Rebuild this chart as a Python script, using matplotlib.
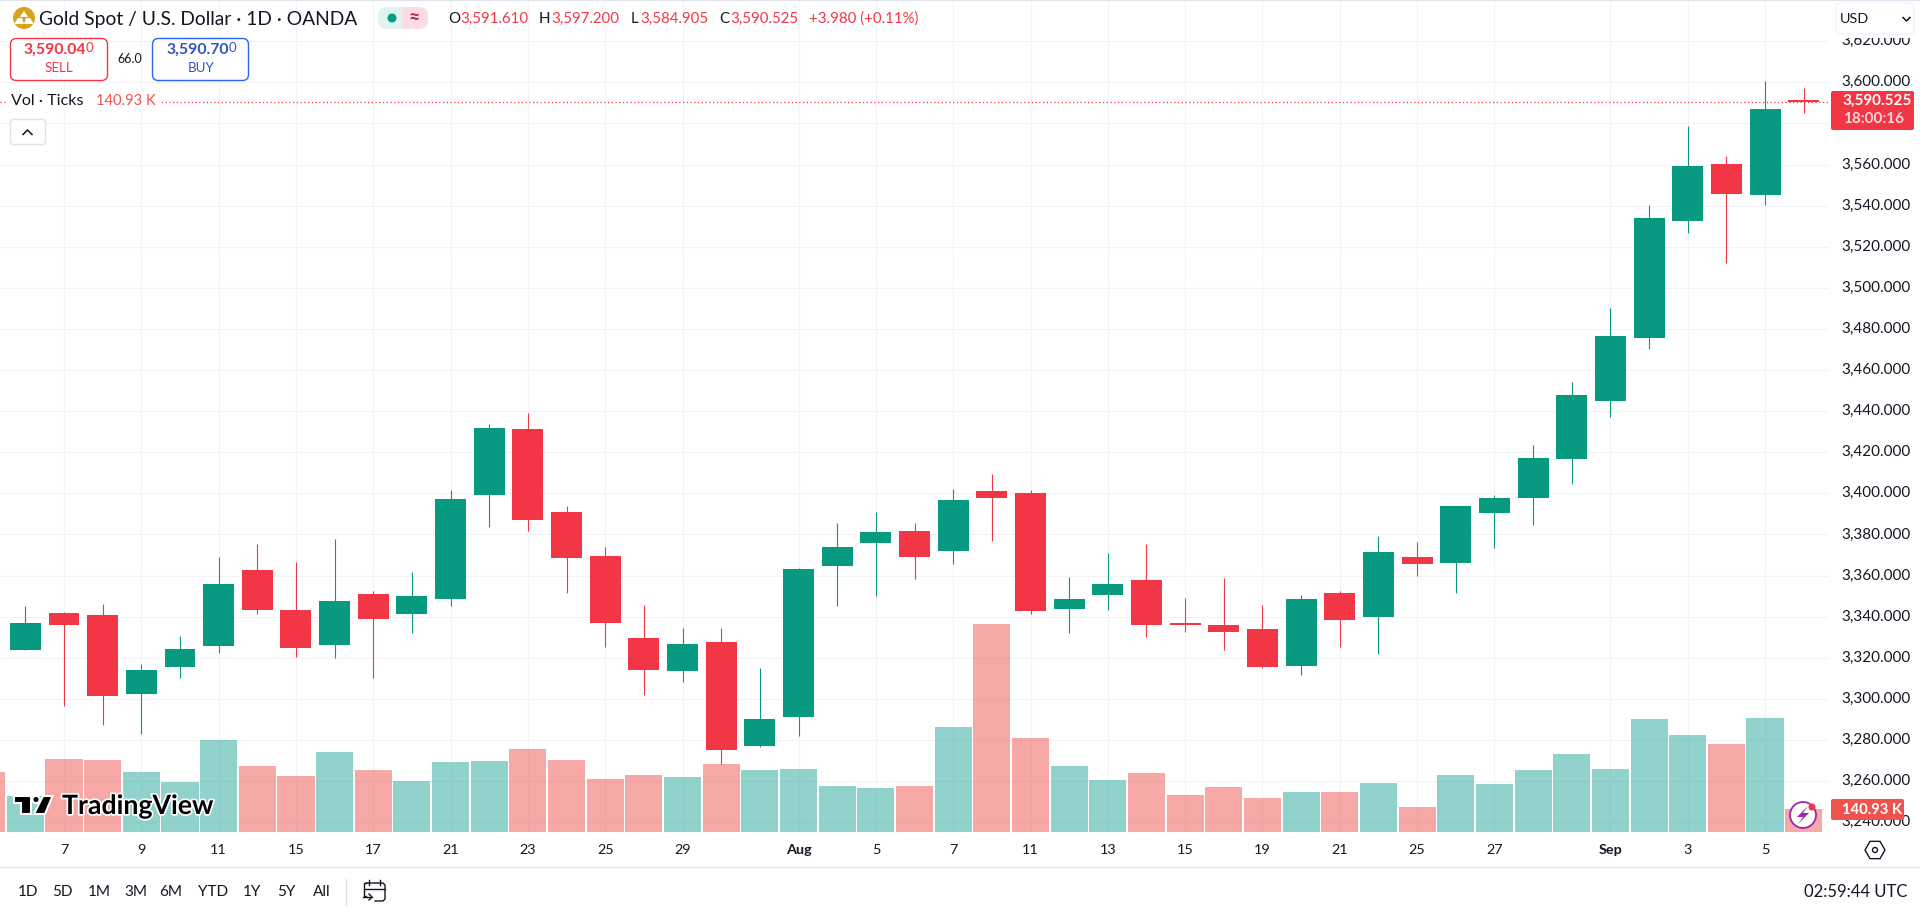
import numpy as np
import matplotlib
matplotlib.use("Agg")
import matplotlib.pyplot as plt
from matplotlib.patches import Circle, FancyBboxPatch, Polygon, RegularPolygon, Rectangle
from matplotlib.transforms import ScaledTranslation
import matplotlib.patheffects as pe

# daily candles, first one is 4 Jul, last one is 8 Sep (weekends skipped)
opens = [3323.7, 3341.7, 3340.7, 3302.3, 3315.4, 3325.7, 3362.6, 3343.2, 3326.1, 3351.0,
         3341.2, 3348.7, 3399.3, 3431.4, 3391.0, 3369.6, 3329.7, 3313.6, 3327.8, 3277.1,
         3291.3, 3364.7, 3375.9, 3381.8, 3372.0, 3400.9, 3400.4, 3343.9, 3350.3, 3358.0,
         3337.1, 3335.7, 3334.2, 3316.2, 3351.7, 3339.8, 3369.0, 3365.9, 3390.3, 3397.9,
         3416.6, 3444.8, 3475.6, 3532.5, 3560.2, 3545.2, 3591.61]
highs = [3345.1, 3342.2, 3346.1, 3316.9, 3330.5, 3369.0, 3375.3, 3366.5, 3377.7, 3352.4,
         3361.7, 3401.7, 3433.8, 3439.2, 3393.9, 3374.0, 3345.8, 3334.6, 3334.6, 3315.1,
         3363.8, 3385.7, 3391.0, 3385.7, 3402.2, 3409.6, 3401.8, 3359.5, 3371.2, 3375.1,
         3349.3, 3359.0, 3345.9, 3350.7, 3352.7, 3379.2, 3376.2, 3393.6, 3399.1, 3423.3,
         3454.0, 3490.2, 3540.1, 3578.8, 3564.2, 3600.6, 3597.2]
lows = [3323.7, 3296.5, 3287.2, 3282.8, 3310.1, 3322.3, 3341.2, 3320.3, 3319.8, 3310.1,
        3332.0, 3345.3, 3383.7, 3381.8, 3351.6, 3325.3, 3302.0, 3308.3, 3268.3, 3276.7,
        3282.0, 3345.3, 3350.1, 3358.4, 3365.7, 3377.0, 3341.5, 3331.8, 3343.0, 3330.3,
        3332.7, 3324.0, 3315.2, 3311.8, 3325.4, 3321.8, 3359.8, 3351.3, 3373.6, 3384.4,
        3404.4, 3436.9, 3470.2, 3526.7, 3512.1, 3540.3, 3584.905]
closes = [3336.9, 3335.9, 3301.3, 3314.0, 3324.2, 3355.8, 3343.2, 3324.7, 3347.6, 3338.8,
          3350.0, 3397.3, 3431.9, 3387.1, 3368.6, 3337.0, 3314.1, 3326.8, 3275.2, 3290.3,
          3363.3, 3374.0, 3381.3, 3369.1, 3396.9, 3397.5, 3342.5, 3348.8, 3356.1, 3335.7,
          3335.7, 3332.7, 3315.7, 3348.8, 3338.6, 3371.4, 3365.6, 3393.6, 3397.6, 3417.1,
          3447.7, 3476.4, 3534.0, 3559.3, 3545.7, 3587.1, 3590.525]

# volume in thousands of ticks, starts one bar earlier than the candles
volumes = [368, 221, 445, 439, 366, 304, 562, 402, 341, 488, 378, 311, 427, 433, 507, 439,
           323, 347, 335, 415, 378, 384, 280, 268, 280, 642, 1273, 574, 402, 317, 360, 225,
           274, 206, 243, 243, 298, 151, 347, 292, 378, 476, 384, 691, 592, 537, 697, 140.93]

price_ticks = list(range(3240, 3640, 20))
date_ticks = [0, 2, 4, 6, 8, 10, 12, 14, 16, 19, 21, 23, 25, 27, 29, 31, 33, 35, 37, 40, 42, 44]
date_labels = ["7", "9", "11", "15", "17", "21", "23", "25", "29", "Aug", "5", "7", "11",
               "13", "15", "19", "21", "25", "27", "Sep", "3", "5"]
ranges = ["1D", "5D", "1M", "3M", "6M", "YTD", "1Y", "5Y", "All"]

GREEN = "#089981"
RED = "#F23645"
GRID = "#f1f3f6"
INK = "#131722"
plt.rcParams["font.family"] = ["Lato", "DejaVu Sans"]

W, H = 1920, 913
PLOT_W, PLOT_H = 1829, 832

fig = plt.figure(figsize=(W / 100, H / 100), dpi=100, facecolor="white")
rect = [0, 1 - PLOT_H / H, PLOT_W / W, PLOT_H / H]
xlim = (-64 / 38.66, (PLOT_W - 64) / 38.66)
ylim = (3235.2, 3640.05)

# bottom layer: grid and axis labels
ax = fig.add_axes(rect, zorder=1)
ax.set_xlim(xlim)
ax.set_ylim(ylim)
ax.set_yticks(price_ticks)
# 3,580 sits fully under the price tag, so no label for it
ax.set_yticklabels(["" if p == 3580 else f"{p:,.3f}" for p in price_ticks], fontsize=11, color=INK)
ax.yaxis.tick_right()
ax.set_xticks(date_ticks)
ax.set_xticklabels(date_labels, fontsize=10.4, color=INK)
for lab in ax.get_xticklabels():
    if lab.get_text() in ("Aug", "Sep"):
        lab.set_fontweight("bold")
ax.tick_params(axis="both", length=0)
ax.tick_params(axis="y", pad=8.8)
ax.tick_params(axis="x", pad=8.6)
# labels sit a little above their grid lines in the original
lift = ScaledTranslation(0, 1.5 / 100, fig.dpi_scale_trans)
for lab in ax.get_yticklabels():
    lab.set_transform(lab.get_transform() + lift)
ax.grid(True, color=GRID, linewidth=0.8)
ax.set_axisbelow(True)
for s in ax.spines.values():
    s.set_visible(False)

# volume pane shares the bottom of the chart
ax_vol = fig.add_axes(rect, zorder=2)
ax_vol.patch.set_alpha(0)
vol_x = np.arange(-2, 46)
vol_up = [False] + [c >= o for o, c in zip(opens, closes)]
vol_colors = ["#26A69A" if u else "#EF5350" for u in vol_up]
ax_vol.bar(vol_x, volumes, width=0.96, color=vol_colors, alpha=0.5, linewidth=0)
ax_vol.set_xlim(xlim)
ax_vol.set_ylim(0, PLOT_H * 6.13)
ax_vol.axis("off")

# candles on top
ax_c = fig.add_axes(rect, zorder=3)
ax_c.patch.set_alpha(0)
x = np.arange(-1, 46)
o = np.array(opens)
c = np.array(closes)
colors = [GREEN if b >= a else RED for a, b in zip(opens, closes)]
ax_c.vlines(x, lows, highs, colors=colors, linewidth=0.8)
ax_c.bar(x, np.abs(c - o), bottom=np.minimum(o, c), width=0.8, color=colors, linewidth=0)
ax_c.axhline(closes[-1], color=RED, linewidth=0.9, linestyle=(0, (1, 2)))
ax_c.set_xlim(xlim)
ax_c.set_ylim(ylim)
ax_c.axis("off")

# everything around the chart, in screen pixels
ui = fig.add_axes([0, 0, 1, 1], zorder=5)
ui.set_xlim(0, W)
ui.set_ylim(H, 0)
ui.axis("off")


def label(px, py, s, size=10, color=INK, ha="left", weight="normal", **kw):
    return ui.text(px, py, s, fontsize=size, color=color, ha=ha, va="center", fontweight=weight, **kw)


def box(x0, y0, x1, y1, face="white", edge="none", lw=1.0, r=5):
    p = FancyBboxPatch((x0 + r, y0 + r), x1 - x0 - 2 * r, y1 - y0 - 2 * r,
                       boxstyle=f"round,pad={r},rounding_size={r}",
                       facecolor=face, edgecolor=edge, linewidth=lw)
    ui.add_patch(p)


ui.plot([0, W], [0.5, 0.5], color="#e0e3eb", linewidth=0.8)
ui.plot([0, W], [867, 867], color="#e0e3eb", linewidth=1.0)

# header
ui.add_patch(Circle((24, 18), 11, facecolor="#d9a21b", edgecolor="none"))
ui.add_patch(Polygon([(24, 11), (28, 17), (20, 17)], facecolor="white"))
ui.add_patch(Polygon([(18, 18), (22, 18), (24, 24), (14, 24)], facecolor="white"))
ui.add_patch(Polygon([(26, 18), (30, 18), (34, 24), (24, 24)], facecolor="white"))
label(39, 19, "Gold Spot / U.S. Dollar · 1D · OANDA", size=13.9)

box(378, 7, 410, 29, face="#dff3f0", r=9)
box(398, 7, 428, 29, face="#fbdce3", r=9)
ui.add_patch(Rectangle((396, 7), 6, 22, facecolor="#dff3f0"))
ui.add_patch(Circle((392, 18), 4.5, facecolor=GREEN))
label(414, 18, "≈", size=14, color="#c2185b", ha="center", weight="bold")

for px, s in [(448, "O"), (539, "H"), (631, "L"), (719.5, "C")]:
    label(px, 19, s, size=10.8)
for px, s in [(460, "3,591.610"), (551, "3,597.200"), (640, "3,584.905"), (730, "3,590.525"),
              (809, "+3.980 (+0.11%)")]:
    label(px, 19, s, size=10.8, color=RED)

# sell / buy buttons
box(10.5, 38.5, 107.5, 80.5, edge=RED, lw=1.0, r=6)
label(24, 50, "3,590.04", size=11.4, color=RED, weight="bold")
label(85.5, 48.5, "0", size=9.5, color=RED)
label(59, 68, "SELL", size=9.6, color=RED, ha="center")
label(130, 59, "66.0", size=9, ha="center")
box(152.5, 38.5, 248.5, 80.5, edge="#2962FF", lw=1.0, r=6)
label(167, 50, "3,590.70", size=11.4, color="#2e55c4", weight="bold")
label(228.5, 48.5, "0", size=9.5, color="#2e55c4")
label(201, 68, "BUY", size=9.6, color="#2e55c4", ha="center")

# volume legend and collapse button
ui.add_patch(Rectangle((8, 92), 154, 18, facecolor="white", edgecolor="none"))
label(11, 100.7, "Vol · Ticks", size=11.6)
label(96, 100.7, "140.93 K", size=10.6, color="#EF5350")
box(10.5, 119.5, 45.5, 144.5, edge="#e0e3eb", lw=1.0, r=3)
ui.plot([23, 27.5, 32], [134.5, 130, 134.5], color=INK, linewidth=1.1)

# currency selector covers the top half of the 3,620 label
ui.add_patch(Rectangle((1832, 0), 86, 38, facecolor="white", edgecolor="none"))
box(1836, 3, 1914, 34, edge="#f0f3fa", lw=1.0, r=4)
label(1840, 19, "USD", size=10.4)
ui.plot([1903, 1906.5, 1910], [17.5, 21, 17.5], color=INK, linewidth=1.1)

# price and volume tags
box(1831, 91, 1914, 130, face=RED, r=2)
label(1842, 100.7, "3,590.525", size=11, color="white", weight="bold")
label(1843, 118.7, "18:00:16", size=11, color="#fcd5d9", weight="bold")
box(1831, 799, 1904, 820, face="#EF5350", r=2)
label(1842, 809.5, "140.93 K", size=10.6, color="white", weight="bold")

# lightning badge
ui.add_patch(Circle((1803, 815), 13, facecolor="white", edgecolor="#9c27b0", linewidth=1.3))
ui.add_patch(Polygon([(1808, 806), (1797, 817), (1803, 817), (1798, 824), (1809, 813), (1803, 813)],
                     facecolor="#9c27b0"))
ui.add_patch(Circle((1812, 807), 3.5, facecolor=RED))

# settings hexagon on the time axis
ui.add_patch(RegularPolygon((1875, 850), 6, radius=10, orientation=np.pi / 2, facecolor="none",
                            edgecolor=INK, linewidth=1.0))
ui.add_patch(Circle((1875, 850), 2.5, facecolor="none", edgecolor=INK, linewidth=1.0))

# TradingView logo
logo_kw = dict(facecolor="black", edgecolor="white", linewidth=1.5)
ui.add_patch(Polygon([(14, 796), (31, 796), (31, 814), (21, 814), (21, 803), (14, 803)], **logo_kw))
ui.add_patch(Circle((36, 799.5), 3.6, **logo_kw))
ui.add_patch(Polygon([(43, 796), (52.5, 796), (45, 814), (34, 814)], **logo_kw))
label(62, 806, "TradingView", size=19.2, color="black", weight="bold",
      path_effects=[pe.withStroke(linewidth=2.5, foreground="white")])

# bottom toolbar
for px, s in zip([28, 62, 99, 135.5, 171, 213, 252, 286.5, 322], ranges):
    label(px, 892, s, size=11, ha="center")
ui.plot([346, 346], [879, 905], color="#e0e3eb", linewidth=1.0)
ui.plot([366, 364, 364, 366], [896, 896, 883, 883], color=INK, linewidth=1.0)
ui.plot([366, 383, 385, 385, 383, 375], [883, 883, 885, 899, 901, 901], color=INK, linewidth=1.0)
ui.plot([364, 385], [889, 889], color=INK, linewidth=1.0)
ui.plot([369, 369], [880, 885], color=INK, linewidth=1.0)
ui.plot([380, 380], [880, 885], color=INK, linewidth=1.0)
ui.plot([363, 372], [897, 897], color=INK, linewidth=1.0)
ui.plot([369, 372, 369], [894, 897, 900], color=INK, linewidth=1.0)
label(1907, 892, "02:59:44 UTC", size=12, ha="right")

fig.savefig("out.png", dpi=100)
